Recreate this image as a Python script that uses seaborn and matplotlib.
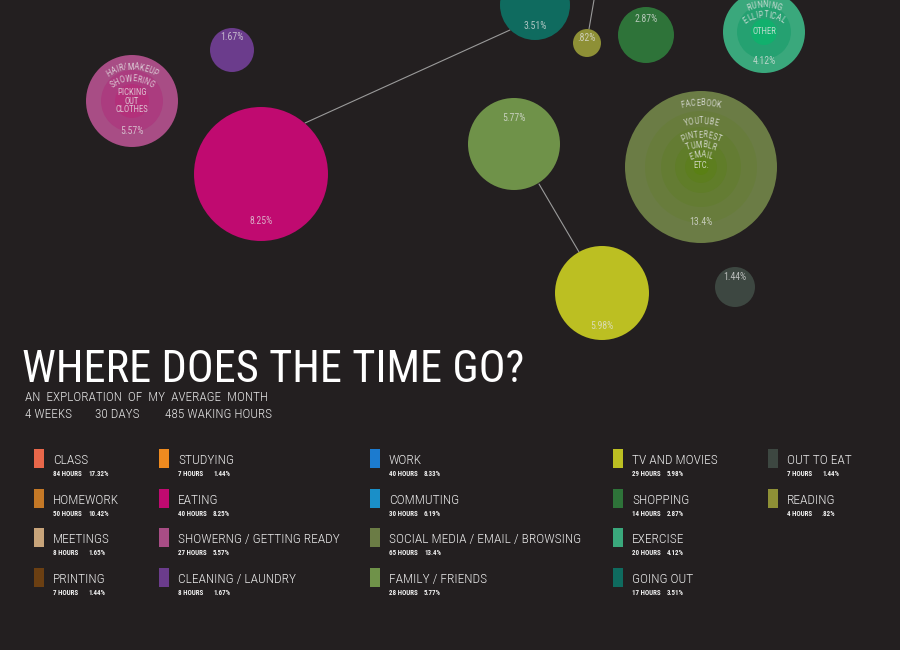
import numpy as np
import pandas as pd
import matplotlib
matplotlib.use("Agg")
import matplotlib.pyplot as plt
import seaborn as sns
from matplotlib import font_manager
from matplotlib.font_manager import FontProperties
from matplotlib.textpath import TextToPath

# Legend data (all activities)
names = ["CLASS", "HOMEWORK", "MEETINGS", "PRINTING",
         "STUDYING", "EATING", "SHOWERNG / GETTING READY", "CLEANING / LAUNDRY",
         "WORK", "COMMUTING", "SOCIAL MEDIA / EMAIL / BROWSING", "FAMILY / FRIENDS",
         "TV AND MOVIES", "SHOPPING", "EXERCISE", "GOING OUT",
         "OUT TO EAT", "READING"]
hours = [84, 50, 8, 7, 7, 40, 27, 8, 40, 30, 65, 28, 29, 14, 20, 17, 7, 4]
pcts = ["17.32%", "10.42%", "1.65%", "1.44%", "1.44%", "8.25%", "5.57%", "1.67%",
        "8.33%", "6.19%", "13.4%", "5.77%", "5.98%", "2.87%", "4.12%", "3.51%",
        "1.44%", ".82%"]
colors = ["#e8674a", "#c47826", "#c8a47a", "#6b3f12",
          "#ee8a1f", "#c00a70", "#a84d85", "#6b3c8c",
          "#1c7bcf", "#1a8fc8", "#6b7c45", "#6f9249",
          "#bcbf22", "#2e7339", "#3aa87c", "#0f6b5f",
          "#3d4741", "#8e9036"]

# Bubbles visible in this part of the poster
bubble_names = ["CLEANING / LAUNDRY", "SHOWERNG / GETTING READY", "EATING", "GOING OUT",
                "READING", "SHOPPING", "EXERCISE", "FAMILY / FRIENDS",
                "SOCIAL MEDIA / EMAIL / BROWSING", "TV AND MOVIES", "OUT TO EAT"]
bubble_x = [232, 132, 261, 535, 587, 646, 764, 514, 701, 602, 735]
bubble_y = [50, 101, 174, 5, 43, 35, 32, 144, 167, 293, 287]
bubble_r = [22, 46, 67, 35, 14, 28, 41, 46, 76, 47, 20]
label_dy = [-13, 30, 47, 21, -5, -16, 29, -26, 55, 33, -10]

# inner rings of the split-up bubbles
rings = {
    "SHOWERNG / GETTING READY": ([31, 17], ["#ab3c7f", "#b3307a"]),
    "EXERCISE": ([27, 13], ["#25a171", "#11b06d"]),
    "SOCIAL MEDIA / EMAIL / BROWSING": ([56, 40, 26, 16, 8],
                                        ["#687c3c", "#647c33", "#607d29", "#5d7e1f", "#5a8014"]),
}

connectors = [((305, 123), (510, 30)), ((589, 29), (594, 0)), ((539, 184), (579, 252))]

sns.set_style("dark")
avail = {f.name for f in font_manager.fontManager.ttflist}


def pick(*cands):
    for c in cands:
        if c in avail:
            return c
    return "DejaVu Sans"


narrow = pick("Roboto Condensed", "Liberation Sans Narrow", "DejaVu Sans")
plt.rcParams["font.family"] = [narrow, "DejaVu Sans"]

bg = "#231f20"
fig = plt.figure(figsize=(9, 6.5), dpi=100, facecolor=bg)
ax = fig.add_axes([0, 0, 1, 1])
ax.set_facecolor(bg)

# marker area in pt^2 -> 1 data unit = 1 px = 0.72 pt
def area(r):
    return (2 * r * 0.72) ** 2


col_of = dict(zip(names, colors))
pct_of = dict(zip(names, pcts))

bub = pd.DataFrame({"name": bubble_names, "x": bubble_x, "y": bubble_y, "r": bubble_r})
sns.scatterplot(data=bub, x="x", y="y", hue="name", size="name",
                palette={n: col_of[n] for n in bubble_names},
                sizes={n: area(r) for n, r in zip(bubble_names, bubble_r)},
                linewidth=0, legend=False, ax=ax, zorder=2)

ring_rows = []
for n, (radii, cols) in rings.items():
    i = bubble_names.index(n)
    for k, (rr, cc) in enumerate(zip(radii, cols)):
        ring_rows.append({"id": f"{n}-{k}", "x": bubble_x[i], "y": bubble_y[i], "r": rr, "c": cc})
rdf = pd.DataFrame(ring_rows)
sns.scatterplot(data=rdf, x="x", y="y", hue="id", size="id",
                palette=dict(zip(rdf["id"], rdf["c"])),
                sizes=dict(zip(rdf["id"], [area(r) for r in rdf["r"]])),
                linewidth=0, legend=False, ax=ax, zorder=3)

for (x0, y0), (x1, y1) in connectors:
    ax.plot([x0, x1], [y0, y1], color="#9a9a9a", lw=0.8, zorder=1)

for n, x, y, dy in zip(bubble_names, bubble_x, bubble_y, label_dy):
    ax.text(x, y + dy, pct_of[n], color="#e4e4e4", alpha=0.75, fontsize=7,
            ha="center", va="center", zorder=5)

# curved labels inside the split bubbles
t2p = TextToPath()


def arc_text(cx, ytop, text, R, size=6.3):
    prop = FontProperties(family=narrow, size=size)
    widths = [t2p.get_text_width_height_descent(ch, prop, ismath=False)[0] * 100 / 72 * 1.05
              for ch in text]
    total = sum(widths)
    s = -total / 2
    for ch, w in zip(text, widths):
        th = (s + w / 2) / R
        s += w
        ax.text(cx + R * np.sin(th), ytop + R - R * np.cos(th), ch,
                rotation=-np.degrees(th), rotation_mode="anchor",
                ha="center", va="center", fontsize=size, color="#e6e6e6", alpha=0.8, zorder=5)


arc_text(132, 67, "HAIR/MAKEUP", 45)
arc_text(132, 79, "SHOWERING", 34)
ax.text(132, 101, "PICKING\nOUT\nCLOTHES", fontsize=6.3, color="#e6e6e6", alpha=0.8,
        ha="center", va="center", linespacing=0.95, zorder=5)
arc_text(764, 5, "RUNNING", 40)
arc_text(764, 15, "ELLIPTICAL", 32)
ax.text(764, 32, "OTHER", fontsize=6.3, color="#e6e6e6", alpha=0.8, ha="center", va="center", zorder=5)
arc_text(701, 103, "FACEBOOK", 90)
arc_text(701, 121, "YOUTUBE", 60)
arc_text(701, 135, "PINTEREST", 45)
arc_text(701, 145, "TUMBLR", 38)
arc_text(701, 155, "EMAIL", 30)
ax.text(701, 166, "ETC.", fontsize=6.3, color="#e6e6e6", alpha=0.8, ha="center", va="center", zorder=5)

# title block
ax.text(22, 382, "WHERE DOES THE TIME GO?", fontsize=32, color="white", ha="left", va="baseline")
ax.text(25, 401, "AN  EXPLORATION  OF  MY  AVERAGE  MONTH", fontsize=9.5, color="#e8e8e8",
        fontweight="light", ha="left", va="baseline")
for x, s in zip([25, 95, 165], ["4 WEEKS", "30 DAYS", "485 WAKING HOURS"]):
    ax.text(x, 418, s, fontsize=9.5, color="#e8e8e8", fontweight="light", ha="left", va="baseline")

# legend
col_x = [34, 159, 370, 613, 768]
row_top = [449, 489, 528, 568]
for i, (n, h, p, c) in enumerate(zip(names, hours, pcts, colors)):
    cx = col_x[i // 4]
    ty = row_top[i % 4]
    ax.bar(cx + 5, 19, width=10, bottom=ty, color=c, linewidth=0, zorder=2)
    ax.text(cx + 19, ty + 15, n, fontsize=9.7, color="#ececec", fontweight="light",
            ha="left", va="baseline")
    ax.text(cx + 19, ty + 27, f"{h} HOURS", fontsize=5, fontweight="bold",
            color="#f0f0f0", ha="left", va="baseline")
    ax.text(cx + 54, ty + 27, p, fontsize=5, fontweight="bold",
            color="#f0f0f0", ha="left", va="baseline")

ax.set_xlim(0, 900)
ax.set_ylim(650, 0)
ax.axis("off")

fig.savefig("out.png", dpi=100, facecolor=bg)
